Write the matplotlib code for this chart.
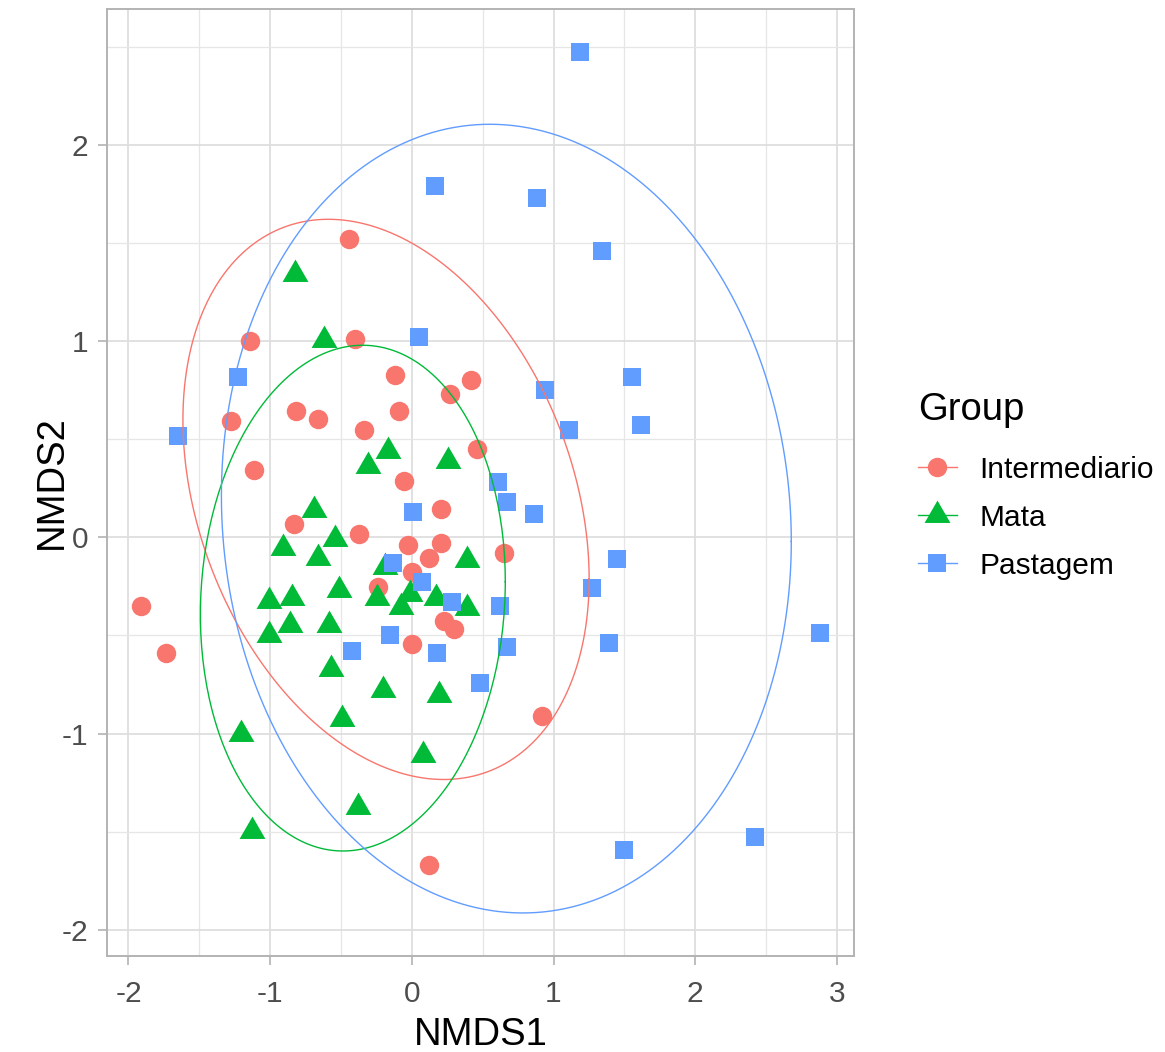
import numpy as np
import matplotlib
matplotlib.use("Agg")
import matplotlib.pyplot as plt
from matplotlib.lines import Line2D
from matplotlib.path import Path
from matplotlib.ticker import MultipleLocator

plt.rcParams['font.family'] = ['Liberation Sans', 'DejaVu Sans']
plt.rcParams['axes.unicode_minus'] = False

groups = ["Intermediario", "Mata", "Pastagem"]
colors = ["#F8766D", "#00BA38", "#619CFF"]

inter_x = [-0.446, -1.139, -0.398, -1.277, -0.816, -0.665, -0.117, 0.416, -0.088, 0.268,
           -0.340, -1.112, 0.460, -0.057, -0.830, -0.371, 0.206, -0.029, 0.206, 0.121,
           0.001, 0.653, -0.239, 0.230, 0.300, 0.001, -1.912, -1.736, 0.919, 0.119]
inter_y = [1.523, 1.001, 1.014, 0.592, 0.647, 0.605, 0.826, 0.805, 0.647, 0.732,
           0.550, 0.344, 0.452, 0.290, 0.069, 0.016, 0.144, -0.040, -0.030, -0.103,
           -0.178, -0.081, -0.253, -0.424, -0.465, -0.543, -0.352, -0.591, -0.909, -1.669]

mata_x = [-0.823, -0.622, -0.166, -0.311, 0.254, -0.689, -0.910, -0.540, -0.659, 0.392,
          -0.189, -0.514, -1.008, -0.848, -0.246, -0.014, -0.074, 0.169, 0.390, -0.862,
          -0.583, -1.008, -0.571, -0.206, 0.191, -0.495, -1.206, 0.077, -0.378, -1.131]
mata_y = [1.341, 1.009, 0.443, 0.366, 0.392, 0.140, -0.052, -0.008, -0.106, -0.115,
          -0.149, -0.266, -0.325, -0.310, -0.310, -0.288, -0.353, -0.310, -0.360, -0.448,
          -0.448, -0.500, -0.671, -0.779, -0.802, -0.926, -1.003, -1.108, -1.377, -1.496]

past_x = [1.190, 0.166, 0.884, 1.343, 0.047, -1.230, 0.943, 1.553, -1.649, 1.112,
          1.619, 0.611, 0.670, 0.861, 0.010, 1.447, -0.131, 0.073, 1.270, 0.282,
          0.625, 1.388, 0.669, -0.154, -0.424, 0.178, 0.484, 2.881, 2.419, 1.494]
past_y = [2.475, 1.790, 1.730, 1.458, 1.021, 0.820, 0.753, 0.817, 0.516, 0.548,
          0.574, 0.281, 0.179, 0.120, 0.132, -0.110, -0.132, -0.229, -0.260, -0.331,
          -0.352, -0.539, -0.560, -0.496, -0.581, -0.590, -0.742, -0.489, -1.530, -1.593]

data = [(inter_x, inter_y), (mata_x, mata_y), (past_x, past_y)]


def cov_trob(X, nu=5, maxit=25, tol=0.01):
    n, p = X.shape
    wt = np.ones(n)
    loc = X.mean(axis=0)
    w = np.sqrt(wt)
    Xc = X - loc
    for _ in range(maxit):
        w0 = w
        Xc = X - loc
        _, d, vt = np.linalg.svd(np.sqrt(w / w.sum())[:, None] * Xc, full_matrices=False)
        wX = Xc @ vt.T @ np.diag(1.0 / d)
        Q = (wX ** 2).sum(axis=1)
        w = (wt * (nu + p)) / (nu + Q)
        loc = (w[:, None] * X).sum(axis=0) / w.sum()
        if np.all(np.abs(w - w0) < tol):
            break
    cov = (np.sqrt(w)[:, None] * Xc).T @ (np.sqrt(w)[:, None] * Xc) / wt.sum()
    return loc, cov


def stat_ellipse(x, y, level=0.95, segments=240):
    X = np.column_stack([x, y])
    n = len(x)
    center, shape = cov_trob(X)
    dfn, dfd = 2, n - 1
    fq = dfd / 2.0 * ((1 - level) ** (-2.0 / dfd) - 1)
    radius = np.sqrt(dfn * fq)
    U = np.linalg.cholesky(shape).T
    ang = np.arange(segments + 1) * 2 * np.pi / segments
    circ = np.column_stack([np.cos(ang), np.sin(ang)])
    return center + radius * (circ @ U)


# R-like equilateral triangle marker centred on centroid
tri = Path([(0, 1), (-0.866, -0.5), (0.866, -0.5), (0, 1)],
           [Path.MOVETO, Path.LINETO, Path.LINETO, Path.CLOSEPOLY])
markers = ["o", tri, "s"]
msizes = [14.0, 21.5, 13.6]

fig = plt.figure(figsize=(11.65, 10.52), dpi=100)
ax = fig.add_axes([107 / 1165, 1 - 956 / 1052, (854 - 107) / 1165, (956 - 9) / 1052])

allx, ally = [], []
for (gx, gy), c, m, ms in zip(data, colors, markers, msizes):
    ax.plot(gx, gy, linestyle="none", marker=m, markersize=ms, color=c,
            markeredgewidth=0, zorder=3)
    allx += list(gx); ally += list(gy)

for (gx, gy), c in zip(data, colors):
    e = stat_ellipse(np.array(gx), np.array(gy))
    ax.plot(e[:, 0], e[:, 1], color=c, linewidth=1.0, zorder=4)
    allx += list(e[:, 0]); ally += list(e[:, 1])

xmin, xmax = min(allx), max(allx)
ymin, ymax = min(ally), max(ally)
dx, dy = 0.05 * (xmax - xmin), 0.05 * (ymax - ymin)
ax.set_xlim(xmin - dx, xmax + dx)
ax.set_ylim(ymin - dy, ymax + dy)

ax.xaxis.set_major_locator(MultipleLocator(1))
ax.yaxis.set_major_locator(MultipleLocator(1))
ax.xaxis.set_minor_locator(MultipleLocator(0.5))
ax.yaxis.set_minor_locator(MultipleLocator(0.5))
ax.grid(which="major", color="#DEDEDE", linewidth=1.3, zorder=0)
ax.grid(which="minor", color="#E6E6E6", linewidth=0.9, zorder=0)
ax.set_axisbelow(True)
for s in ax.spines.values():
    s.set_color("#B3B3B3")
    s.set_linewidth(1.4)
ax.tick_params(which="major", length=6.5, width=1.2, color="#B3B3B3",
               labelsize=21.5, labelcolor="#4D4D4D", pad=7)
ax.tick_params(axis="x", which="major", pad=11)
ax.tick_params(which="minor", length=0)

ax.set_xlabel("NMDS1", fontsize=27.5, color="black", labelpad=6)
ax.set_ylabel("NMDS2", fontsize=27.5, color="black", labelpad=-6)

handles = [Line2D([0], [0], color=c, marker=m, markersize=ms, markeredgewidth=0,
                  linewidth=1.0) for c, m, ms in zip(colors, markers, msizes)]
leg = fig.legend(handles, groups, title="Group", loc="center left",
                 bbox_to_anchor=(918 / 1165, 1 - 486 / 1052), frameon=False,
                 fontsize=21.5, title_fontsize=27.5, handlelength=1.3,
                 handletextpad=0.75, labelspacing=0.67, alignment="left",
                 borderaxespad=0, borderpad=0)
leg._legend_box.sep = 20

fig.savefig("out.png", dpi=100)
